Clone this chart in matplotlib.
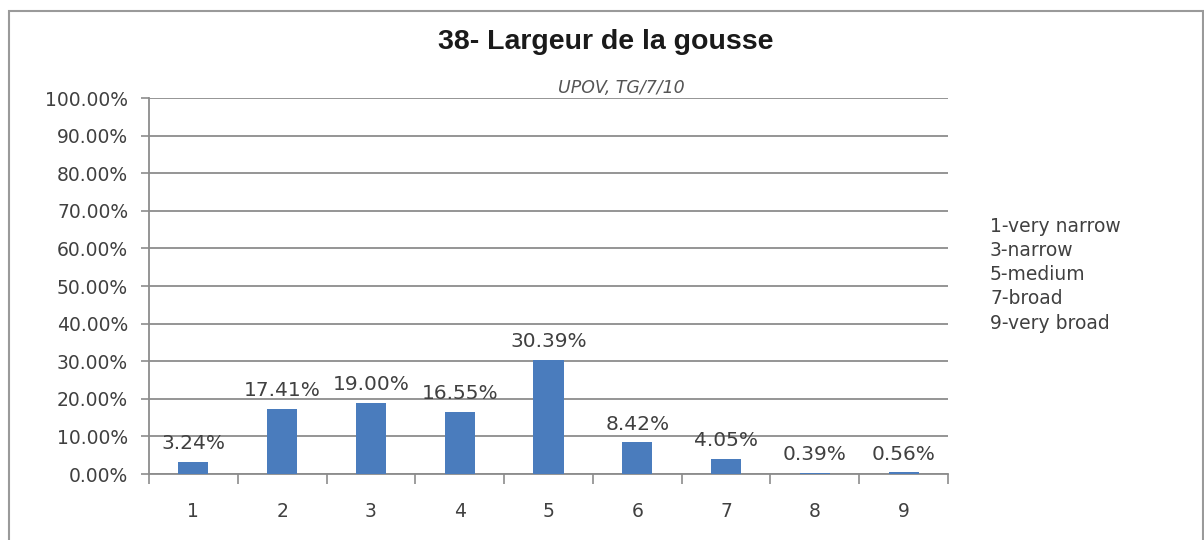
import matplotlib
matplotlib.use("Agg")
import matplotlib.pyplot as plt
from matplotlib.patches import Rectangle
from matplotlib.ticker import FixedLocator

categories = [1, 2, 3, 4, 5, 6, 7, 8, 9]
values = [3.24, 17.41, 19.00, 16.55, 30.39, 8.42, 4.05, 0.39, 0.56]
ytick_values = [0, 10, 20, 30, 40, 50, 60, 70, 80, 90, 100]
legend_lines = ["1-very narrow", "3-narrow", "5-medium", "7-broad", "9-very broad"]
title = "38- Largeur de la gousse"
subtitle = "UPOV, TG/7/10"

W, H = 1204, 540
fig = plt.figure(figsize=(W / 100, H / 100), dpi=100)
fig.patch.set_facecolor("white")

# outer chart border
fig.add_artist(Rectangle((9 / W, -0.05), (1203 - 9) / W, 1.05 - 11 / H,
                         transform=fig.transFigure, fill=False,
                         edgecolor="#9a9a9a", linewidth=1.5))

ax = fig.add_axes([149 / W, 66 / H, (948 - 149) / W, (474 - 98) / H])
txt = "#404040"
grid_c = "#8c8c8c"

ax.bar(categories, values, width=0.34, color="#4a7cbd", zorder=3)
ax.set_xlim(0.5, 9.5)
ax.set_ylim(0, 100)

ax.set_yticks(ytick_values)
ax.set_yticklabels([f"{v:.2f}%" for v in ytick_values])
ax.yaxis.grid(True, color=grid_c, linewidth=1.3, zorder=0)
ax.tick_params(axis="y", length=6, width=1.2, color=grid_c, pad=9,
               labelsize=13.5, labelcolor=txt)

ax.set_xticks(categories)
ax.set_xticklabels([str(c) for c in categories])
ax.xaxis.set_minor_locator(FixedLocator([c + 0.5 for c in [0] + categories]))
ax.tick_params(axis="x", which="major", length=0, pad=20, labelsize=13.5,
               labelcolor=txt)
ax.tick_params(axis="x", which="minor", length=7, width=1.2, color=grid_c)

for s in ["top", "right"]:
    ax.spines[s].set_visible(False)
for s in ["left", "bottom"]:
    ax.spines[s].set_color(grid_c)
    ax.spines[s].set_linewidth(1.3)

for c, v in zip(categories, values):
    ax.annotate(f"{v:.2f}%", (c, v), xytext=(0, 6), textcoords="offset points",
                ha="center", va="bottom", fontsize=14.5, color=txt, zorder=4)

fig.text(606 / W, 1 - 42 / H, title, ha="center", va="center",
         fontsize=20.5, fontweight="bold", family="Liberation Sans", color="#1a1a1a")
fig.text(621 / W, 1 - 88 / H, subtitle, ha="center", va="center",
         fontsize=12.5, style="italic", color="#555555")

for i, line in enumerate(legend_lines):
    fig.text(990 / W, 1 - (226 + 24.3 * i) / H, line, ha="left", va="center",
             fontsize=13.5, color=txt)

fig.savefig("out.png", dpi=100, facecolor="white")
